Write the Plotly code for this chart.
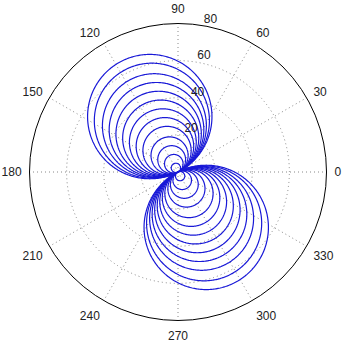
import numpy as np
import plotly.graph_objects as go

# Loop diameters (radial units), one per nested loop
diameters = [5, 10, 15, 20, 26, 31, 36, 41, 46, 51, 56, 62, 67]
lobe_direction = 117  # degrees, axis of the upper-left lobe
angle_ticks = list(range(0, 360, 30))
radial_ticks = [20, 40, 60, 80]
radial_label_angle = 80

theta = np.linspace(0, 360, 721)
fig = go.Figure()
for d in diameters:
    r = d * np.abs(np.cos(np.radians(theta - lobe_direction)))
    fig.add_trace(go.Scatterpolar(r=r, theta=theta, mode="lines",
                                  line=dict(color="rgb(25,25,215)", width=1.2),
                                  showlegend=False, hoverinfo="skip"))

# radial tick labels, MATLAB style (placed beside each ring)
fig.add_trace(go.Scatterpolar(
    r=radial_ticks, theta=[radial_label_angle] * len(radial_ticks),
    mode="text", text=[str(v) for v in radial_ticks],
    textposition="top right", cliponaxis=False,
    textfont=dict(family="Liberation Sans, Arial", size=12, color="#222"),
    showlegend=False, hoverinfo="skip"))

W, H = 343, 355
cx, cy, R = 178, 172, 148.5
fig.update_layout(
    width=W, height=H,
    margin=dict(l=0, r=0, t=0, b=0),
    paper_bgcolor="white",
    font=dict(family="Liberation Sans, Arial", size=12, color="#222"),
    polar=dict(
        domain=dict(x=[(cx - R) / W, (cx + R) / W],
                    y=[(H - cy - R) / H, (H - cy + R) / H]),
        bgcolor="white",
        angularaxis=dict(
            tickmode="array", tickvals=angle_ticks,
            ticktext=[str(a) for a in angle_ticks],
            direction="counterclockwise", rotation=0,
            showline=True, linecolor="black", linewidth=1,
            showgrid=True, gridcolor="#888", gridwidth=1, griddash="1px,3px",
            ticks="outside", ticklen=5, tickcolor="rgba(0,0,0,0)",
        ),
        radialaxis=dict(
            range=[0, 80], tickmode="array", tickvals=radial_ticks,
            angle=radial_label_angle, showticklabels=False,
            showline=False, ticks="",
            showgrid=True, gridcolor="#888", gridwidth=1, griddash="1px,3px",
        ),
    ),
)
fig.write_html("out.html")
